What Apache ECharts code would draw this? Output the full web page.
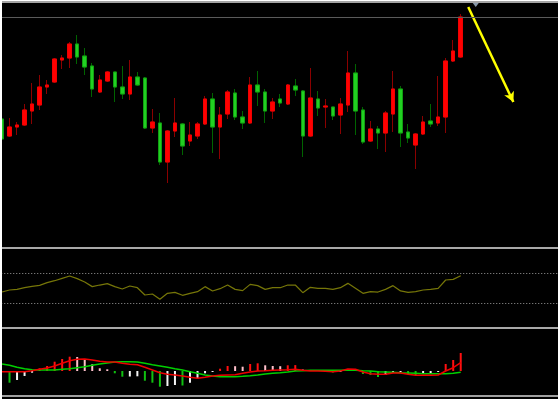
<!DOCTYPE html>
<html>
<head>
<meta charset="utf-8">
<script src="https://cdn.jsdelivr.net/npm/echarts@6/dist/echarts.min.js"></script>
<style>
html,body{margin:0;padding:0;background:#fff;overflow:hidden;}
#c{width:558px;height:399px;}
</style>
</head>
<body>
<div id="c"></div>
<script>
// ---- data ----
const categories = Array.from({length: 75}, (_, i) => String(i + 1));

const opens  = [131,114,123,125,139,145,163,168,190,192, 206,194,184,158,169,178,163,156,173,172,
                122,127,88,119,126,109,114,126,151,123, 136,157,133,127,165,158,139,151,146,164,
                159,114,151,143,143,135,145,177,140,109, 121,117,136,161,118,105,116,129,127,133,
                189,193];
const closes = [111,123,125,140,146,163,165,191,192,206, 193,183,161,170,178,163,156,173,165,122,
                128,88,119,127,104,115,126,151,123,135, 158,133,127,165,158,139,148,147,165,160,
                114,152,142,144,134,146,177,139,108,121, 117,137,161,117,112,116,128,126,133,189,
                199,233];
const lows   = [110,113,115,124,126,140,156,167,181,182, 186,175,153,157,168,148,151,150,164,121,
                117,85,67,113,95,104,111,125,97,91, 131,130,121,126,144,127,131,143,145,154,
                93,113,134,122,130,116,138,115,106,108, 101,98,118,103,107,81,115,123,124,117,
                188,192];
const highs  = [132,132,128,146,167,175,170,192,195,208, 215,202,187,175,179,178,184,190,178,173,
                141,137,120,152,127,128,128,154,157,143, 160,161,139,173,179,161,152,156,166,171,
                160,182,159,151,143,152,199,186,143,129, 124,139,179,164,126,117,134,146,174,192,
                210,236];

const rsi = [44.7,47.4,48.2,50.4,52.2,53.5,57.0,59.6,62.7,65.8, 62.3,57.9,51.8,53.9,55.7,51.8,48.7,52.6,50.4,40.8,
             42.1,35.1,43.0,44.3,40.4,43.0,45.2,51.8,46.1,49.1, 53.9,48.2,46.5,54.8,53.1,48.2,50.4,50.4,53.9,53.9,
             43.9,50.9,49.6,49.6,48.2,50.4,56.1,49.6,43.0,45.2, 44.7,48.2,53.1,46.1,44.3,45.2,47.4,48.2,49.6,60.5,
             61.4,66.2];
const rsiLevels = [70, 30];

const macdHist = [null,-11.7,-9,-5,-1.7,2.7,5,9.3,12,14.3, 14.0,11,6.7,2.7,1.7,-2.3,-5.7,-5.5,-5.3,-9.7,
                  -11.7,-15.7,-15,-14,-14.5,-11.7,-7.3,-2.3,-1,2.3, 5,4.8,4.3,7,7.7,5.7,5,4.8,5.7,5.9,
                  1.5,1.0,0.6,0.3,-1.5,-1.0,0.8,0.4,-3,-4, -6,-4,-2,-1,-3,-4,-3,-2,-1,7,
                  11,18];
const macdDif = [-0.7,-0.7,-0.7,-0.7,0.3,1.7,3,5,7.7,10.3, 11.7,12,11,9.7,9,9,7.7,6.7,6.3,3.7,
                 1,-1.7,-3.3,-4,-5,-6.3,-7.3,-6.3,-5,-4.3, -4,-3.7,-2.3,-1,0,0.3,0.7,1,1.3,1.7,
                 0.7,0,0,-0.3,-0.7,0,2,1.7,-1,-2.7, -3.3,-3.3,-2,-2,-3.3,-4.3,-4.3,-4.3,-4,0,
                 3.3,8.3];
const macdDea = [7,5.7,3.7,2.3,1.3,1,1,1,1.7,2.3, 3.3,4.3,5.7,7,8,9,9.3,9.3,9,7.7,
                 6.3,5,3.7,2.3,1,-0.7,-2.3,-4,-5,-5.7, -5.7,-5.7,-5.3,-4.7,-4,-3,-2.3,-1.7,-1,0,
                 0.3,0.7,0.7,0.7,0.7,0.7,0.7,0.7,0.3,0, -0.7,-1,-1.3,-1.7,-2,-2.3,-2.7,-2.7,-2.7,-2.7,
                 -2.3,-1.3];

// annotation (category index, price)
const arrowStart = [62, 243];
const arrowEnd   = [68, 148];
const topMarker  = [63, 246];

// ---- build ----
const ohlc = opens.map((o, i) => [o, closes[i], lows[i], highs[i]]);
const bodies = opens.map((o, i) => [o, closes[i], Math.min(o, closes[i]), Math.max(o, closes[i])]);
const lastClose = closes[closes.length - 1];

const BW = 7.52, LEFT = -1.76;
const gridWidth = BW * categories.length;

function histColor(p) {
  const i = p.dataIndex;
  const v = macdHist[i];
  const prev = (i > 0 && macdHist[i - 1] != null) ? macdHist[i - 1] : 0;
  if (v >= 0) return v >= prev ? '#ff1010' : '#ffc0cb';
  return v < prev ? '#10c010' : '#f4f4f4';
}

const xBase = {
  type: 'category', data: categories, boundaryGap: true,
  axisLine: {show: false}, axisTick: {show: false}, axisLabel: {show: false}, splitLine: {show: false}
};
const yBase = {
  type: 'value', axisLine: {show: false}, axisTick: {show: false}, axisLabel: {show: false}, splitLine: {show: false}
};

const chart = echarts.init(document.getElementById('c'), null, {renderer: 'canvas'});
chart.setOption({
  animation: false,
  backgroundColor: '#000',
  grid: [
    {left: LEFT, width: gridWidth, top: 0, height: 247, outerBoundsMode: 'none', containLabel: false},
    {left: LEFT, width: gridWidth, top: 250, height: 76, outerBoundsMode: 'none', containLabel: false},
    {left: LEFT, width: gridWidth, top: 329, height: 66, outerBoundsMode: 'none', containLabel: false}
  ],
  xAxis: [
    Object.assign({gridIndex: 0}, xBase),
    Object.assign({gridIndex: 1}, xBase),
    Object.assign({gridIndex: 2}, xBase)
  ],
  yAxis: [
    Object.assign({gridIndex: 0, min: 3, max: 250}, yBase),
    Object.assign({gridIndex: 1, min: 0, max: 100}, yBase),
    Object.assign({gridIndex: 2, min: -24, max: 42}, yBase)
  ],
  series: [
    {
      name: 'wick', type: 'candlestick', xAxisIndex: 0, yAxisIndex: 0,
      data: ohlc, barWidth: 4, silent: true,
      itemStyle: {color: '#8b0000', color0: '#006400', borderColor: '#8b0000', borderColor0: '#006400', borderWidth: 1},
      emphasis: {disabled: true},
      markLine: {
        silent: true, symbol: ['none', 'arrow'], symbolSize: [8, 10],
        label: {show: false},
        lineStyle: {color: '#ffff00', width: 2.5, type: 'solid'},
        data: [[{coord: arrowStart}, {coord: arrowEnd}]]
      },
      markPoint: {
        silent: true, symbol: 'triangle', symbolRotate: 180, symbolSize: [9, 6],
        label: {show: false},
        itemStyle: {color: '#8797a8'},
        data: [{coord: topMarker}]
      }
    },
    {
      name: 'body', type: 'candlestick', xAxisIndex: 0, yAxisIndex: 0,
      data: bodies, barWidth: 4, silent: true,
      itemStyle: {color: '#ff0000', color0: '#22d022', borderColor: '#f00000', borderColor0: '#11a011', borderWidth: 1},
      emphasis: {disabled: true},
      markLine: {
        silent: true, symbol: 'none', label: {show: false},
        lineStyle: {color: '#5a5a5a', width: 1, type: 'solid'},
        data: [{yAxis: lastClose}]
      }
    },
    {
      name: 'RSI', type: 'line', xAxisIndex: 1, yAxisIndex: 1,
      data: rsi, symbol: 'none', silent: true,
      lineStyle: {color: '#767608', width: 1.2},
      markLine: {
        silent: true, symbol: 'none', label: {show: false},
        lineStyle: {color: '#9a9a9a', width: 1, type: [1, 2]},
        data: rsiLevels.map(v => ({yAxis: v}))
      }
    },
    {
      name: 'HIST', type: 'bar', xAxisIndex: 2, yAxisIndex: 2,
      data: macdHist, barWidth: 2, silent: true,
      itemStyle: {color: histColor}
    },
    {
      name: 'DEA', type: 'line', xAxisIndex: 2, yAxisIndex: 2,
      data: macdDea, symbol: 'none', silent: true,
      lineStyle: {color: '#00d000', width: 1.5}
    },
    {
      name: 'DIF', type: 'line', xAxisIndex: 2, yAxisIndex: 2,
      data: macdDif, symbol: 'none', silent: true,
      lineStyle: {color: '#ee0000', width: 1.5}
    }
  ],
  graphic: [
    {type: 'rect', z: 100, silent: true, shape: {x: 0, y: 0, width: 558, height: 1}, style: {fill: '#ffffff'}},
    {type: 'rect', z: 100, silent: true, shape: {x: 0, y: 1, width: 558, height: 2}, style: {fill: '#a4a4a4'}},
    {type: 'rect', z: 100, silent: true, shape: {x: 0, y: 247, width: 558, height: 2}, style: {fill: '#a8a8a8'}},
    {type: 'rect', z: 100, silent: true, shape: {x: 0, y: 327, width: 558, height: 2}, style: {fill: '#a8a8a8'}},
    {type: 'rect', z: 100, silent: true, shape: {x: 0, y: 395, width: 558, height: 2}, style: {fill: '#a0a0a0'}},
    {type: 'rect', z: 101, silent: true, shape: {x: 0, y: 0, width: 2, height: 399}, style: {fill: '#ffffff'}}
  ]
});
</script>
</body>
</html>
